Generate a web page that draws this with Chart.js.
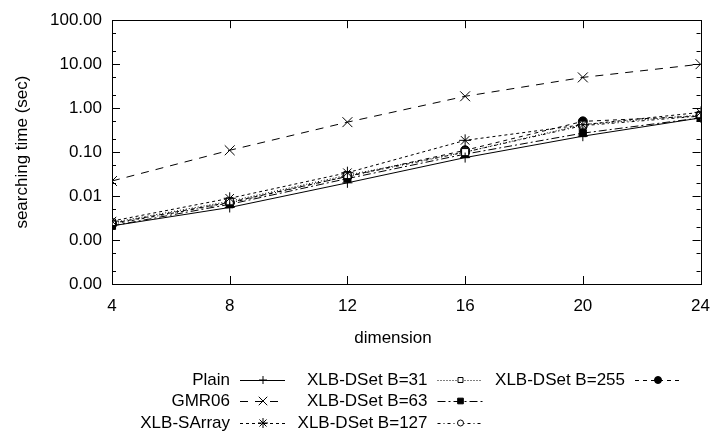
<!DOCTYPE html>
<html>
<head>
<meta charset="utf-8">
<script src="https://cdn.jsdelivr.net/npm/chart.js@4.4.0/dist/chart.umd.min.js"></script>
<style>
  html, body { margin: 0; padding: 0; background: #fff; }
  #wrap { width: 722px; height: 437px; }
</style>
</head>
<body>
<div id="wrap"><canvas id="grafico"></canvas></div>
<script>
// dimension on the x axis
const dimensiones = [4, 8, 12, 16, 20, 24];

// searching time (sec), one array per method
const plain      = [0.0021, 0.0055, 0.020, 0.075, 0.23, 0.60];
const gmr06      = [0.022, 0.11, 0.48, 1.86, 5.0, 10.0];
const xlbSArray  = [0.0027, 0.0089, 0.034, 0.185, 0.42, 0.80];
const xlbB31     = [0.0025, 0.0076, 0.030, 0.10, 0.42, 0.70];
const xlbB63     = [0.0021, 0.0065, 0.025, 0.090, 0.27, 0.60];
const xlbB127    = [0.0023, 0.0070, 0.028, 0.10, 0.40, 0.66];
const xlbB255    = [0.0024, 0.0072, 0.028, 0.11, 0.50, 0.66];

const nombres = ['Plain', 'GMR06', 'XLB-SArray', 'XLB-DSet B=31', 'XLB-DSet B=63', 'XLB-DSet B=127', 'XLB-DSet B=255'];

// y axis decades
const ticksY = [0.0001, 0.001, 0.01, 0.1, 1, 10, 100];

const FUENTE = '"Liberation Sans", Arial, sans-serif';

const serie = (label, valores, dash, estilo, relleno, radio, radioLeyenda) => ({
  label,
  data: dimensiones.map((d, i) => ({ x: d, y: valores[i] })),
  borderColor: '#000',
  borderWidth: 1,
  borderDash: dash,
  pointStyle: estilo,
  pointRadius: radio,
  pointBorderWidth: 1,
  pointBorderColor: '#000',
  pointBackgroundColor: relleno,
  radioLeyenda,
  tension: 0,
  fill: false,
});

const datasets = [
  serie(nombres[0], plain, [], 'cross', '#000', 5, 4),
  serie(nombres[1], gmr06, [8, 7], 'crossRot', '#000', 7, 6),
  serie(nombres[2], xlbSArray, [3, 3], 'star', '#000', 6, 5),
  serie(nombres[3], xlbB31, [1, 2], 'rect', '#fff', 5, 3.5),
  serie(nombres[4], xlbB63, [8, 3, 2, 3], 'rect', '#000', 5, 4),
  serie(nombres[5], xlbB127, [3, 3, 1, 3], 'circle', '#fff', 4.5, 3),
  serie(nombres[6], xlbB255, [4, 4], 'circle', '#000', 4.5, 3.5),
];

// frame, inward ticks, titles and the legend (gnuplot style)
const estiloGnuplot = {
  id: 'estiloGnuplot',
  beforeDatasetsDraw(chart) {
    const { ctx, chartArea: a, scales: { x, y } } = chart;
    ctx.save();
    ctx.strokeStyle = '#000';
    ctx.lineWidth = 1;
    ctx.setLineDash([]);
    ctx.strokeRect(Math.round(a.left) + 0.5, Math.round(a.top) + 0.5,
      Math.round(a.right - a.left), Math.round(a.bottom - a.top));
    ctx.beginPath();
    dimensiones.forEach(d => {
      const px = Math.round(x.getPixelForValue(d)) + 0.5;
      ctx.moveTo(px, a.bottom); ctx.lineTo(px, a.bottom - 8);
      ctx.moveTo(px, a.top); ctx.lineTo(px, a.top + 8);
    });
    ticksY.forEach((v, i) => {
      const py = Math.round(y.getPixelForValue(v)) + 0.5;
      ctx.moveTo(a.left, py); ctx.lineTo(a.left + 8, py);
      ctx.moveTo(a.right, py); ctx.lineTo(a.right - 8, py);
      if (i < ticksY.length - 1) {
        [2, 5].forEach(m => {
          const pm = Math.round(y.getPixelForValue(v * m)) + 0.5;
          ctx.moveTo(a.left, pm); ctx.lineTo(a.left + 4, pm);
          ctx.moveTo(a.right, pm); ctx.lineTo(a.right - 4, pm);
        });
      }
    });
    ctx.stroke();
    ctx.restore();
  },
  afterDraw(chart) {
    const { ctx, chartArea: a } = chart;
    ctx.save();
    ctx.fillStyle = '#000';
    ctx.font = '17px ' + FUENTE;
    ctx.textBaseline = 'middle';

    // axis titles
    ctx.textAlign = 'center';
    ctx.fillText('dimension', 393, 338);
    ctx.save();
    ctx.translate(22, (a.top + a.bottom) / 2);
    ctx.rotate(-Math.PI / 2);
    ctx.fillText('searching time (sec)', 0, 0);
    ctx.restore();

    // legend: 3 rows, filled column by column
    const filas = [380, 401, 423];
    chart.data.datasets.forEach((ds, i) => {
      const col = Math.floor(i / 3);
      const fy = filas[i % 3];
      const finTexto = 230 + col * 197.5;
      ctx.textAlign = 'right';
      ctx.fillText(ds.label, finTexto, fy);
      const x0 = finTexto + 10, x1 = finTexto + 55;
      ctx.strokeStyle = '#000';
      ctx.lineWidth = 1;
      ctx.setLineDash(ds.borderDash);
      ctx.beginPath();
      ctx.moveTo(x0, Math.round(fy) + 0.5);
      ctx.lineTo(x1, Math.round(fy) + 0.5);
      ctx.stroke();
      ctx.setLineDash([]);
      ctx.fillStyle = ds.pointBackgroundColor;
      Chart.helpers.drawPoint(ctx, {
        pointStyle: ds.pointStyle,
        radius: ds.radioLeyenda,
        rotation: 0,
        borderWidth: 1,
      }, finTexto + 33, fy);
      ctx.fillStyle = '#000';
    });
    ctx.restore();
  }
};

new Chart(document.getElementById('grafico'), {
  type: 'line',
  data: { datasets },
  plugins: [estiloGnuplot],
  options: {
    responsive: true,
    maintainAspectRatio: false,
    devicePixelRatio: 1,
    animation: false,
    layout: { padding: { top: 18, right: 12, bottom: 0, left: 0 } },
    plugins: {
      legend: { display: false },
      tooltip: { enabled: false },
    },
    scales: {
      x: {
        type: 'linear',
        min: 4,
        max: 24,
        afterBuildTicks: (s) => { s.ticks = dimensiones.map(v => ({ value: v })); },
        ticks: { color: '#000', font: { family: FUENTE, size: 17 }, padding: 12, maxRotation: 0 },
        grid: { display: false, drawTicks: false },
        border: { display: false },
        afterFit: (s) => { s.height = 153; },
      },
      y: {
        type: 'logarithmic',
        min: 0.0001,
        max: 100,
        afterBuildTicks: (s) => { s.ticks = ticksY.map(v => ({ value: v, major: true })); },
        ticks: {
          color: '#000',
          font: { family: FUENTE, size: 17 },
          padding: 10,
          autoSkip: false,
          callback: (v) => Number(v).toFixed(2),
        },
        grid: { display: false, drawTicks: false },
        border: { display: false },
        afterFit: (s) => { s.width = 112; },
      },
    },
  },
});
</script>
</body>
</html>
